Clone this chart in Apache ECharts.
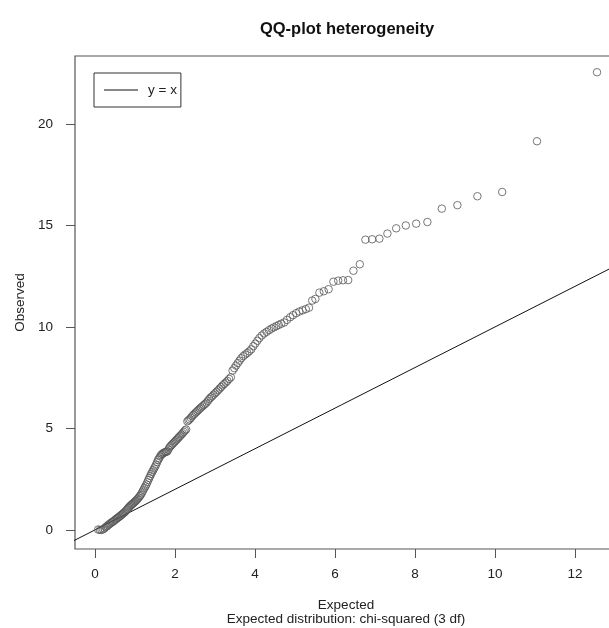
<!DOCTYPE html>
<html>
<head>
<meta charset="utf-8">
<script src="https://cdn.jsdelivr.net/npm/echarts@6/dist/echarts.min.js"></script>
<style>
html,body{margin:0;padding:0;background:#fff;}
#chart{width:609px;height:628px;}
</style>
</head>
<body>
<div id="chart"></div>
<script>
// Expected (chi-squared 3 df quantiles)
const expected = [
0.078,0.124,0.164,0.202,0.236,0.268,0.299,0.328,0.357,0.385,
0.413,0.440,0.467,0.493,0.519,0.544,0.569,0.594,0.618,0.643,
0.667,0.691,0.715,0.740,0.764,0.789,0.812,0.836,0.859,0.883,
0.906,0.930,0.953,0.977,1.000,1.024,1.048,1.071,1.095,1.118,
1.142,1.165,1.189,1.213,1.237,1.260,1.285,1.309,1.333,1.357,
1.381,1.405,1.429,1.454,1.478,1.503,1.528,1.553,1.578,1.602,
1.627,1.652,1.678,1.704,1.730,1.756,1.781,1.807,1.833,1.859,
1.886,1.913,1.940,1.967,1.995,2.022,2.049,2.076,2.104,2.132,
2.162,2.191,2.220,2.249,2.278,2.308,2.337,2.366,2.397,2.429,
2.460,2.492,2.523,2.555,2.586,2.618,2.650,2.684,2.719,2.753,
2.788,2.822,2.857,2.891,2.926,2.962,3.000,3.038,3.076,3.115,
3.153,3.191,3.229,3.268,3.309,3.352,3.396,3.439,3.483,3.526,
3.569,3.613,3.656,3.705,3.756,3.806,3.856,3.907,3.957,4.007,
4.058,4.108,4.169,4.230,4.290,4.351,4.411,4.472,4.533,4.593,
4.657,4.73,4.80,4.88,4.95,5.03,5.11,5.19,5.27,5.35,
5.43,5.51,5.61,5.72,5.84,5.96,6.08,6.20,6.33,6.46,
6.62,6.76,6.93,7.11,7.31,7.53,7.77,8.03,8.31,8.67,
9.06,9.56,10.18,11.05,12.55
];
// Observed statistics
const observed = [
0.02,0.00,0.00,0.03,0.08,0.14,0.18,0.24,0.28,0.32,
0.37,0.40,0.43,0.48,0.52,0.56,0.60,0.63,0.67,0.71,
0.75,0.79,0.83,0.87,0.92,0.98,1.03,1.09,1.14,1.19,
1.23,1.27,1.31,1.35,1.40,1.44,1.49,1.54,1.60,1.66,
1.72,1.80,1.89,1.98,2.07,2.15,2.24,2.35,2.46,2.56,
2.66,2.76,2.85,2.94,3.03,3.12,3.22,3.34,3.45,3.52,
3.62,3.69,3.74,3.78,3.81,3.83,3.85,3.87,3.96,4.06,
4.12,4.18,4.24,4.29,4.35,4.41,4.46,4.52,4.58,4.64,
4.70,4.76,4.83,4.90,4.95,5.35,5.40,5.45,5.52,5.60,
5.67,5.73,5.79,5.85,5.91,5.97,6.03,6.09,6.15,6.21,
6.27,6.36,6.45,6.52,6.58,6.66,6.73,6.80,6.88,6.96,
7.04,7.12,7.19,7.26,7.34,7.44,7.52,7.85,7.97,8.10,
8.22,8.34,8.46,8.56,8.64,8.72,8.80,8.90,9.05,9.18,
9.32,9.45,9.58,9.68,9.76,9.84,9.92,9.98,10.04,10.10,
10.16,10.22,10.35,10.48,10.58,10.68,10.76,10.82,10.88,10.95,
11.30,11.38,11.69,11.76,11.86,12.23,12.28,12.30,12.31,12.77,
13.09,14.30,14.32,14.35,14.60,14.86,15.00,15.09,15.17,15.83,
16.00,16.44,16.65,19.15,22.55
];
// Reference line y = x
const refLineX = [-1, 14];
const refLineY = [-1, 14];
// Tick labels
const xTicks = [0, 2, 4, 6, 8, 10, 12];
const yTicks = [0, 5, 10, 15, 20];

const FONT = '"Liberation Sans", Arial, Helvetica, sans-serif';
const FS = 13.5;
const chart = echarts.init(document.getElementById('chart'), null, {renderer: 'canvas'});
const pts = expected.map((x, i) => [x, observed[i]]);
const ref = refLineX.map((x, i) => [x, refLineY[i]]);

chart.setOption({
  animation: false,
  backgroundColor: '#fff',
  textStyle: {fontFamily: FONT},
  title: {
    text: 'QQ-plot heterogeneity',
    left: 342, top: 16, textAlign: 'center',
    textStyle: {fontFamily: FONT, fontSize: 16.5, fontWeight: 'bold', color: '#111'}
  },
  legend: {
    left: 94, top: 73,
    orient: 'vertical',
    data: [{name: 'y = x', icon: 'rect'}],
    borderColor: '#333', borderWidth: 1, borderRadius: 0,
    padding: [10, 4, 10, 10],
    itemWidth: 34, itemHeight: 1, itemGap: 5,
    textStyle: {fontFamily: FONT, fontSize: FS, color: '#222', padding: [0, 0, 0, 5], lineHeight: 14},
    selectedMode: false
  },
  grid: {
    left: 75, top: 56, width: 542, height: 493,
    outerBoundsMode: 'none', containLabel: false,
    show: true, borderColor: '#555', borderWidth: 1.2, backgroundColor: 'transparent'
  },
  xAxis: {
    type: 'value', min: -0.5, max: 13.05,
    axisLine: {show: false, onZero: false},
    splitLine: {show: false},
    axisTick: {show: true, length: 9, customValues: xTicks, lineStyle: {color: '#555', width: 1}},
    axisLabel: {show: true, customValues: xTicks, margin: 18, fontSize: FS, color: '#222', fontFamily: FONT},
    name: 'Expected\nExpected distribution: chi-squared (3 df)',
    nameLocation: 'middle', nameGap: 49,
    nameTextStyle: {fontSize: FS, color: '#222', lineHeight: 14.5, fontFamily: FONT}
  },
  yAxis: {
    type: 'value', min: -0.94, max: 23.35,
    axisLine: {show: false, onZero: false},
    splitLine: {show: false},
    axisTick: {show: true, length: 9, customValues: yTicks, lineStyle: {color: '#555', width: 1}},
    axisLabel: {show: true, customValues: yTicks, margin: 22, fontSize: FS, color: '#222', fontFamily: FONT},
    name: 'Observed',
    nameLocation: 'middle', nameGap: 46, nameRotate: 90,
    nameTextStyle: {fontSize: FS, color: '#222', fontFamily: FONT}
  },
  series: [
    {
      name: 'observed', type: 'scatter', data: pts,
      symbol: 'circle', symbolSize: 7.5,
      itemStyle: {color: 'rgba(0,0,0,0)', borderColor: '#555', borderWidth: 0.8, opacity: 1},
      emphasis: {disabled: true},
      z: 3
    },
    {
      name: 'y = x', type: 'line', data: ref,
      symbol: 'none', showSymbol: false,
      lineStyle: {color: '#111', width: 1},
      itemStyle: {color: '#111'},
      clip: true, z: 2
    }
  ]
});
</script>
</body>
</html>
